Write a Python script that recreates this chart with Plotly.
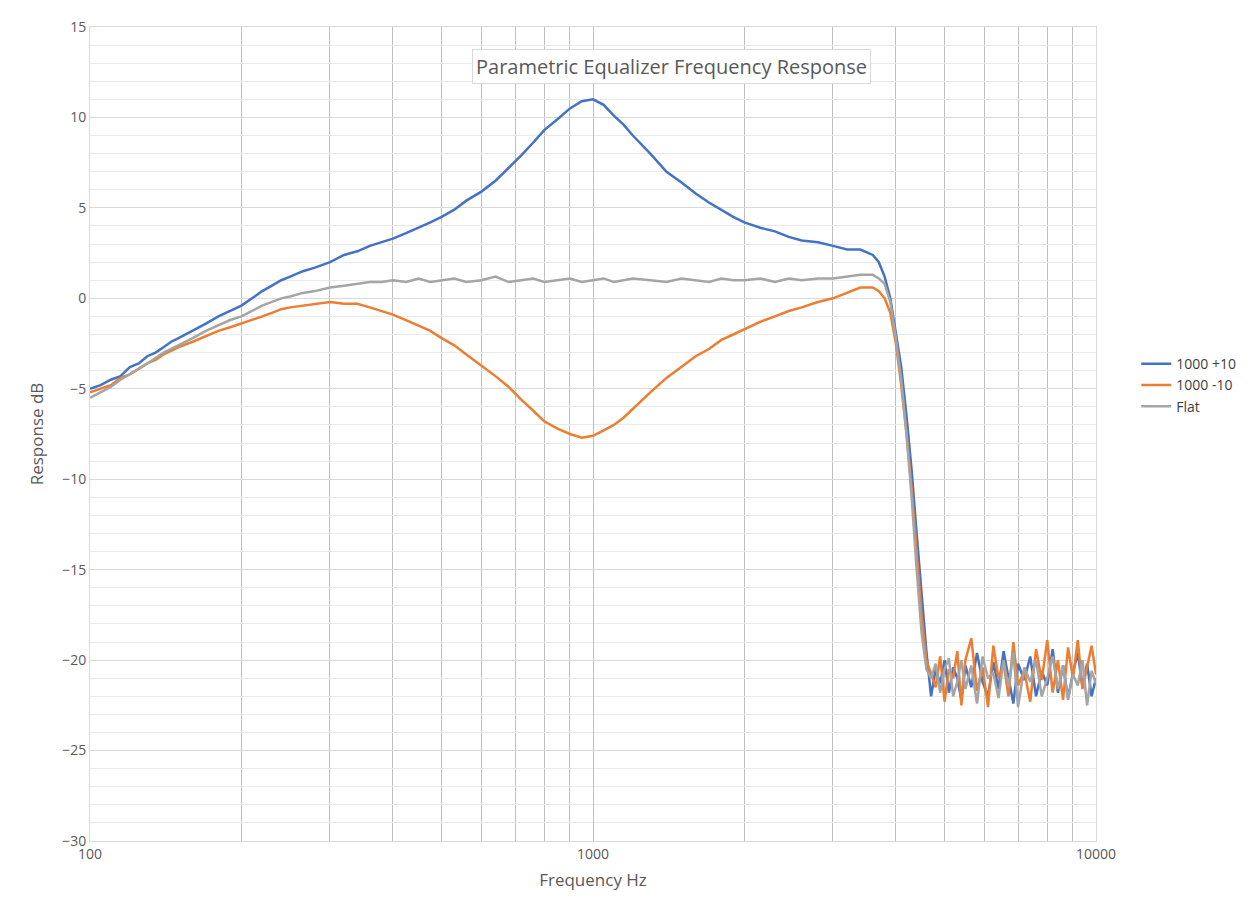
import plotly.graph_objects as go

# Shared frequency points (Hz)
freq = [100, 105, 110, 115, 120, 125, 130, 135, 140, 145, 150, 160, 170, 180, 190, 200,
        210, 220, 230, 240, 250, 265, 280, 300, 320, 340, 360, 380, 400,
        425, 450, 475, 500, 530, 560, 600, 640, 680, 720, 760, 800, 850, 900, 950, 1000,
        1050, 1100, 1150, 1200, 1300, 1400, 1500, 1600, 1700, 1800, 1900, 2000,
        2150, 2300, 2450, 2600, 2800,
        3000, 3200, 3400, 3600, 3700, 3800, 3900, 4000, 4100, 4200, 4300, 4400, 4500, 4600,
        4700, 4800, 4900, 5000, 5100, 5200, 5300, 5400, 5500, 5650, 5800, 5950, 6100, 6250,
        6400, 6550, 6700, 6850, 7000, 7200, 7400, 7600, 7800, 8000, 8200, 8400, 8600, 8800,
        9000, 9200, 9400, 9600, 9800, 10000]

boost = [-5.0, -4.8, -4.5, -4.3, -3.8, -3.6, -3.2, -3.0, -2.7, -2.4, -2.2, -1.8, -1.4, -1.0, -0.7, -0.4,
         0.0, 0.4, 0.7, 1.0, 1.2, 1.5, 1.7, 2.0, 2.4, 2.6, 2.9, 3.1, 3.3,
         3.6, 3.9, 4.2, 4.5, 4.9, 5.4, 5.9, 6.5, 7.2, 7.9, 8.6, 9.3, 9.9, 10.5, 10.9, 11.0,
         10.7, 10.1, 9.6, 9.0, 8.0, 7.0, 6.4, 5.8, 5.3, 4.9, 4.5, 4.2,
         3.9, 3.7, 3.4, 3.2, 3.1,
         2.9, 2.7, 2.7, 2.4, 2.0, 1.2, 0.0, -1.8, -3.8, -6.5, -9.5, -13.0, -16.5, -19.5,
         -22.0, -20.5, -21.3, -20.0, -21.8, -20.4, -21.0, -22.2, -20.3, -21.5, -19.6, -21.2, -22.0, -20.1,
         -21.6, -19.5, -21.0, -22.4, -20.2, -21.1, -19.8, -22.0, -20.6, -21.4, -19.4, -21.8, -20.3, -22.1,
         -20.7, -19.6, -21.5, -20.2, -22.0, -21.0]

cut = [-5.2, -5.0, -4.8, -4.4, -4.2, -3.9, -3.6, -3.4, -3.1, -2.9, -2.7, -2.4, -2.1, -1.8, -1.6, -1.4,
       -1.2, -1.0, -0.8, -0.6, -0.5, -0.4, -0.3, -0.2, -0.3, -0.3, -0.5, -0.7, -0.9,
       -1.2, -1.5, -1.8, -2.2, -2.6, -3.1, -3.7, -4.3, -4.9, -5.6, -6.2, -6.8, -7.2, -7.5, -7.7, -7.6,
       -7.3, -7.0, -6.6, -6.1, -5.2, -4.4, -3.8, -3.2, -2.8, -2.3, -2.0, -1.7,
       -1.3, -1.0, -0.7, -0.5, -0.2,
       0.0, 0.3, 0.6, 0.6, 0.4, 0.0, -0.8, -2.5, -4.8, -7.5, -10.5, -14.0, -17.5, -20.0,
       -20.8, -21.5, -19.8, -22.3, -20.5, -21.0, -19.5, -22.5, -20.0, -18.8, -21.7, -20.4, -22.6, -19.2,
       -21.0, -20.2, -22.0, -19.0, -21.4, -20.6, -22.3, -19.4, -21.1, -18.9, -21.8, -20.0, -22.2, -19.3,
       -21.0, -18.9, -21.6, -20.4, -19.2, -20.8]

flat = [-5.5, -5.2, -4.9, -4.5, -4.2, -3.9, -3.6, -3.3, -3.0, -2.8, -2.6, -2.2, -1.8, -1.5, -1.2, -1.0,
        -0.7, -0.4, -0.2, 0.0, 0.1, 0.3, 0.4, 0.6, 0.7, 0.8, 0.9, 0.9, 1.0,
        0.9, 1.1, 0.9, 1.0, 1.1, 0.9, 1.0, 1.2, 0.9, 1.0, 1.1, 0.9, 1.0, 1.1, 0.9, 1.0,
        1.1, 0.9, 1.0, 1.1, 1.0, 0.9, 1.1, 1.0, 0.9, 1.1, 1.0, 1.0,
        1.1, 0.9, 1.1, 1.0, 1.1,
        1.1, 1.2, 1.3, 1.3, 1.1, 0.8, -0.2, -2.2, -4.5, -7.5, -11.0, -15.0, -18.5, -20.5,
        -21.0, -20.2, -21.8, -20.5, -19.9, -22.0, -21.2, -20.0, -21.6, -20.3, -22.4, -19.8, -21.0, -20.7,
        -22.1, -20.0, -21.5, -19.6, -22.6, -20.4, -21.2, -20.0, -22.0, -21.0, -19.8, -21.6, -20.3, -22.2,
        -20.8, -21.4, -20.0, -22.5, -20.6, -21.3]

series = [("1000 +10", boost, "#4472c4"), ("1000 -10", cut, "#ed7d31"), ("Flat", flat, "#a5a5a5")]

fig = go.Figure()
for name, vals, col in series:
    fig.add_trace(go.Scatter(x=freq, y=vals, mode="lines", name=name,
                             line=dict(color=col, width=2.5)))

fig.update_layout(
    width=1251, height=920,
    paper_bgcolor="white", plot_bgcolor="white",
    margin=dict(l=82, r=163, t=19, b=87),
    font=dict(family="Open Sans", size=14, color="#595959"),
    legend=dict(x=1.04, y=0.56, yanchor="middle", font=dict(size=14, color="#404040"),
                tracegroupgap=4),
    annotations=[dict(text="Parametric Equalizer Frequency Response", xref="paper", yref="paper",
                      x=0.578, y=0.973, showarrow=False, font=dict(size=20, color="#595959"),
                      bgcolor="white", bordercolor="#d9d9d9", borderwidth=1, borderpad=3)],
)
fig.update_xaxes(type="log", range=[2, 4], tickvals=[100, 1000, 10000], ticktext=["100", "1000", "10000"],
                 showgrid=True, gridcolor="#bfbfbf", gridwidth=1, automargin=False,
                 minor=dict(dtick="D1", showgrid=True, gridcolor="#bfbfbf", ticklen=0),
                 showline=True, linecolor="#d9d9d9", mirror=True, zeroline=False,
                 title=dict(text="Frequency Hz", standoff=12))
fig.update_yaxes(range=[-30, 15], dtick=5, showgrid=True, gridcolor="#d9d9d9", automargin=False,
                 minor=dict(dtick=1, showgrid=True, gridcolor="#e9e9e9"),
                 showline=True, linecolor="#d9d9d9", mirror=True, zeroline=False,
                 ticks="", title=dict(text="Response dB", standoff=14))

fig.write_html("out.html")
